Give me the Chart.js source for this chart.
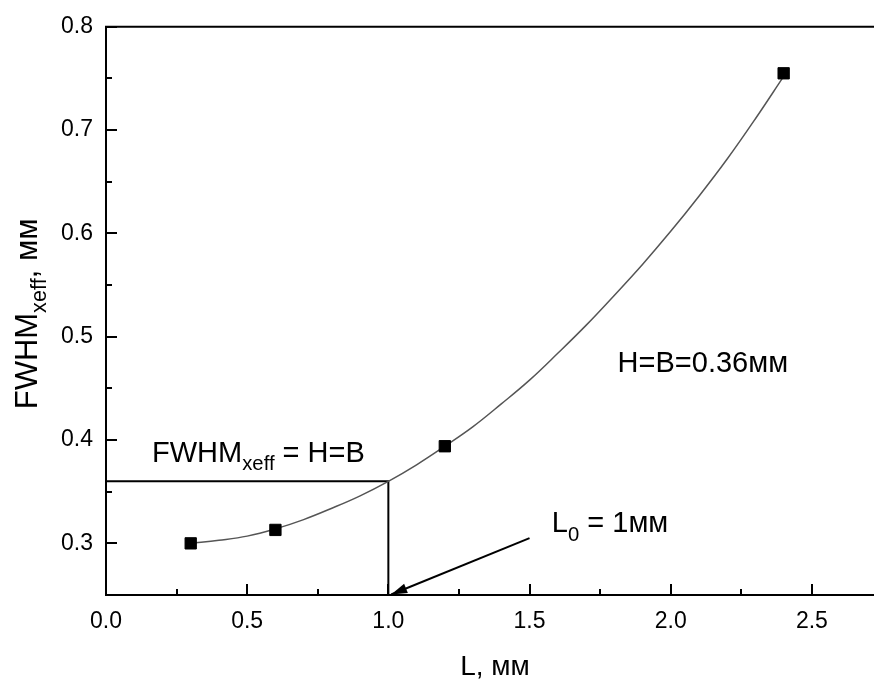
<!DOCTYPE html>
<html>
<head>
<meta charset="utf-8">
<title>FWHM vs L</title>
<script src="https://cdn.jsdelivr.net/npm/chart.js@4.4.1/dist/chart.umd.min.js"></script>
<style>
    html, body { margin: 0; padding: 0; background: #fff; }
    #wrap { width: 874px; height: 684px; }
</style>
</head>
<body>
<div id="wrap"><canvas id="fwhmChart" width="874" height="684"></canvas></div>
<script>
// measured points (L, mm -> FWHM_xeff, mm)
var pointL = [0.3, 0.6, 1.2, 2.4];
var pointFwhm = [0.300, 0.313, 0.394, 0.755];

// fitted curve
var curveL = [0.3, 0.4, 0.5, 0.6, 0.7, 0.8, 0.9, 1.0, 1.1, 1.2, 1.3, 1.4,
    1.5, 1.6, 1.7, 1.8, 1.9, 2.0, 2.1, 2.2, 2.3, 2.4];
var curveFwhm = [0.300, 0.303, 0.307, 0.314, 0.323, 0.334, 0.346, 0.360,
    0.376, 0.394, 0.413, 0.435, 0.458, 0.484, 0.511, 0.540, 0.570, 0.602,
    0.636, 0.672, 0.711, 0.752];

// guide lines at H=B=0.36 and L0=1
var guideL = [0, 1.0, 1.0];
var guideFwhm = [0.36, 0.36, 0.25];

// arrow from the L0 label down to the axis
var arrowL = [1.5, 1.01];
var arrowFwhm = [0.305, 0.2505];

// axis ticks
var xMajorTicks = [0, 0.5, 1.0, 1.5, 2.0, 2.5];
var xMinorTicks = [0.25, 0.75, 1.25, 1.75, 2.25];
var yMajorTicks = [0.3, 0.4, 0.5, 0.6, 0.7, 0.8];
var yMinorTicks = [0.35, 0.45, 0.55, 0.65, 0.75];

function toXY(xs, ys) {
    return xs.map(function (x, i) {
        return { x: x, y: ys[i] };
    });
}

var FONT = "'Liberation Sans', Arial, sans-serif";

// text with subscripts: parts = [[text, isSub], ...]
function richWidth(ctx, parts, size) {
    var w = 0;
    parts.forEach(function (p) {
        ctx.font = (p[1] ? size * 0.7 : size) + 'px ' + FONT;
        w += ctx.measureText(p[0]).width;
    });
    return w;
}

function drawRich(ctx, parts, x, y, size) {
    ctx.textBaseline = 'alphabetic';
    ctx.textAlign = 'left';
    parts.forEach(function (p) {
        ctx.font = (p[1] ? size * 0.7 : size) + 'px ' + FONT;
        ctx.fillText(p[0], x, p[1] ? y + size * 0.3 : y);
        x += ctx.measureText(p[0]).width;
    });
}

// inward ticks, top frame line, arrow head, labels
var decorPlugin = {
    id: 'decor',
    afterDatasetsDraw: function (chart) {
        var ctx = chart.ctx;
        var area = chart.chartArea;
        var xs = chart.scales.x;
        var ys = chart.scales.y;

        ctx.save();
        ctx.strokeStyle = '#000';
        ctx.lineWidth = 2;

        // top frame
        ctx.beginPath();
        ctx.moveTo(area.left - 1, area.top);
        ctx.lineTo(area.right, area.top);
        ctx.stroke();

        function tickX(v, len) {
            var px = Math.round(xs.getPixelForValue(v));
            ctx.beginPath();
            ctx.moveTo(px, area.bottom);
            ctx.lineTo(px, area.bottom - len);
            ctx.stroke();
        }
        function tickY(v, len) {
            var py = Math.round(ys.getPixelForValue(v));
            ctx.beginPath();
            ctx.moveTo(area.left, py);
            ctx.lineTo(area.left + len, py);
            ctx.stroke();
        }
        xMajorTicks.forEach(function (v) { tickX(v, 11); });
        xMinorTicks.forEach(function (v) { tickX(v, 6); });
        yMajorTicks.forEach(function (v) { tickY(v, 11); });
        yMinorTicks.forEach(function (v) { tickY(v, 6); });

        // arrow head
        var x0 = xs.getPixelForValue(arrowL[0]);
        var y0 = ys.getPixelForValue(arrowFwhm[0]);
        var x1 = xs.getPixelForValue(arrowL[1]);
        var y1 = ys.getPixelForValue(arrowFwhm[1]);
        var ang = Math.atan2(y1 - y0, x1 - x0);
        ctx.fillStyle = '#000';
        ctx.beginPath();
        ctx.moveTo(x1, y1);
        ctx.lineTo(x1 - 16 * Math.cos(ang) + 5 * Math.sin(ang), y1 - 16 * Math.sin(ang) - 5 * Math.cos(ang));
        ctx.lineTo(x1 - 16 * Math.cos(ang) - 5 * Math.sin(ang), y1 - 16 * Math.sin(ang) + 5 * Math.cos(ang));
        ctx.closePath();
        ctx.fill();

        // annotations
        ctx.fillStyle = '#000';
        drawRich(ctx, [['FWHM', false], ['xeff', true], [' = H=B', false]],
            xs.getPixelForValue(0.163), ys.getPixelForValue(0.379), 29);
        drawRich(ctx, [['H=B=0.36мм', false]],
            xs.getPixelForValue(1.812), ys.getPixelForValue(0.466), 29);
        drawRich(ctx, [['L', false], ['0', true], [' = 1мм', false]],
            xs.getPixelForValue(1.579), ys.getPixelForValue(0.311), 29);

        // axis titles
        var xTitle = [['L, мм', false]];
        var wx = richWidth(ctx, xTitle, 28);
        drawRich(ctx, xTitle, (area.left + area.right) / 2 - wx / 2 + 5, 675, 28);

        var yTitle = [['FWHM', false], ['xeff', true], [', мм', false]];
        var wy = richWidth(ctx, yTitle, 31);
        ctx.translate(37, (area.top + area.bottom) / 2 + 3);
        ctx.rotate(-Math.PI / 2);
        drawRich(ctx, yTitle, -wy / 2, 0, 31);

        ctx.restore();
    },
};

var ctxChart = document.getElementById('fwhmChart').getContext('2d');

new Chart(ctxChart, {
    type: 'scatter',
    data: {
        datasets: [
            {
                label: 'fit',
                data: toXY(curveL, curveFwhm),
                showLine: true,
                borderColor: '#555',
                borderWidth: 1.5,
                pointRadius: 0,
                tension: 0.4,
                order: 2,
            },
            {
                label: 'guide',
                data: toXY(guideL, guideFwhm),
                showLine: true,
                borderColor: '#000',
                borderWidth: 2,
                pointRadius: 0,
                order: 3,
            },
            {
                label: 'arrow',
                data: toXY(arrowL, arrowFwhm),
                showLine: true,
                borderColor: '#000',
                borderWidth: 2,
                pointRadius: 0,
                clip: false,
                order: 3,
            },
            {
                label: 'measured',
                data: toXY(pointL, pointFwhm),
                pointStyle: 'rect',
                pointRadius: 8,
                pointBackgroundColor: '#000',
                pointBorderColor: '#000',
                pointBorderWidth: 1,
                order: 1,
            },
        ],
    },
    options: {
        responsive: false,
        animation: false,
        devicePixelRatio: 1,
        layout: {
            autoPadding: false,
            padding: { top: 24, right: 0, left: 0, bottom: 0 },
        },
        plugins: {
            legend: { display: false },
            tooltip: { enabled: false },
        },
        scales: {
            x: {
                type: 'linear',
                min: 0,
                max: 2.72,
                afterBuildTicks: function (scale) {
                    scale.ticks = xMajorTicks.map(function (v) { return { value: v }; });
                },
                afterFit: function (scale) {
                    scale.height = 89;
                },
                ticks: {
                    callback: function (v) { return v.toFixed(1); },
                    color: '#000',
                    font: { family: FONT, size: 23 },
                    padding: 13,
                    maxRotation: 0,
                },
                grid: { drawOnChartArea: false, drawTicks: false },
                border: { display: true, color: '#000', width: 2 },
            },
            y: {
                type: 'linear',
                min: 0.25,
                max: 0.8,
                afterBuildTicks: function (scale) {
                    scale.ticks = yMajorTicks.map(function (v) { return { value: v }; });
                },
                afterFit: function (scale) {
                    scale.width = 106;
                },
                ticks: {
                    callback: function (v) { return v.toFixed(1); },
                    color: '#000',
                    font: { family: FONT, size: 23 },
                    padding: 13,
                },
                grid: { drawOnChartArea: false, drawTicks: false },
                border: { display: true, color: '#000', width: 2 },
            },
        },
    },
    plugins: [decorPlugin],
});
</script>
</body>
</html>
